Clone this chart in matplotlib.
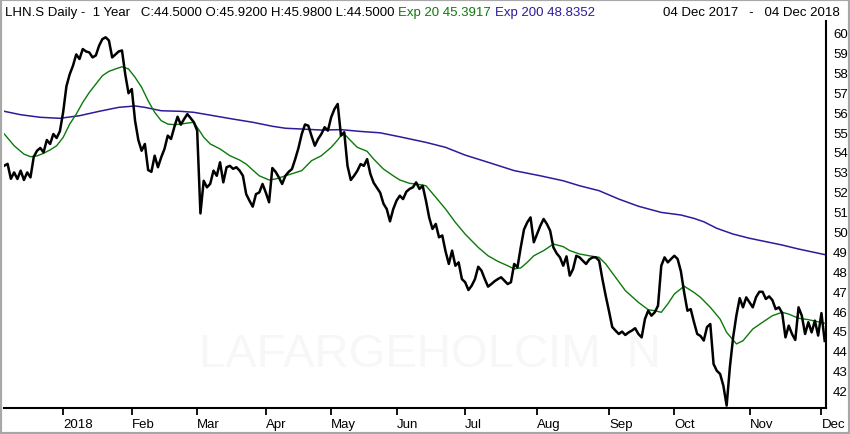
import matplotlib
matplotlib.use('Agg')
import matplotlib.pyplot as plt
from matplotlib.patches import Rectangle
import pandas as pd

# Swiss trading days, 04 Dec 2017 - 04 Dec 2018
holidays = ['2017-12-25', '2017-12-26', '2018-01-01', '2018-01-02', '2018-03-30',
            '2018-04-02', '2018-05-01', '2018-05-10', '2018-05-21', '2018-08-01']
dates = pd.bdate_range('2017-12-04', '2018-12-04')
dates = dates[~dates.isin(pd.to_datetime(holidays))]

# daily closes
closes = [
    53.31, 53.40, 52.65, 52.97, 52.64, 53.06, 52.59, 52.97, 52.72, 53.75,
    54.06, 54.20, 53.98, 54.60, 54.40, 54.90, 54.70, 55.04, 56.00, 57.30,
    57.90, 58.33, 58.90, 58.67, 59.17, 59.05, 59.00, 58.75, 58.85, 59.34,
    59.67, 59.76, 59.60, 58.75, 58.90, 59.05, 59.10, 57.90, 56.95, 57.16,
    55.57, 54.60, 54.06, 54.40, 53.09, 53.00, 53.81, 53.23, 53.73, 54.15,
    54.82, 54.65, 55.24, 55.77, 55.37, 55.65, 55.90, 55.70, 55.49, 55.07,
    50.91, 52.55, 52.22, 52.40, 53.06, 52.80, 53.48, 52.47, 53.23, 53.30,
    53.15, 53.23, 53.06, 52.80, 51.88, 51.55, 51.25, 51.88, 51.96, 52.39,
    51.96, 51.47, 53.19, 53.00, 52.72, 52.39, 52.80, 53.00, 53.14, 53.64,
    54.20, 54.90, 55.38, 55.32, 54.80, 54.31, 54.65, 54.90, 55.24, 55.07,
    55.74, 56.15, 56.41, 54.82, 54.99, 53.30, 52.59, 52.80, 53.05, 53.39,
    53.30, 53.64, 52.89, 52.45, 52.20, 51.95, 51.40, 51.13, 50.51, 51.13,
    51.55, 51.80, 51.63, 52.00, 52.14, 52.22, 52.47, 52.14, 52.30, 51.55,
    50.70, 50.13, 50.38, 49.71, 49.80, 49.00, 48.37, 49.04, 48.28, 48.45,
    47.61, 47.45, 47.06, 47.28, 47.61, 48.23, 48.03, 47.61, 47.23, 47.36,
    47.50, 47.61, 47.70, 47.53, 47.36, 47.45, 48.37, 48.20, 49.20, 50.10,
    50.46, 50.71, 49.46, 49.87, 50.29, 50.63, 50.38, 50.04, 49.20, 48.90,
    48.70, 48.28, 48.75, 47.78, 48.11, 48.78, 48.70, 48.53, 48.37, 48.60,
    48.70, 48.70, 48.53, 47.60, 46.77, 46.00, 45.20, 45.02, 44.85, 44.97,
    44.80, 44.93, 45.02, 45.14, 44.85, 44.68, 45.60, 46.02, 45.77, 45.94,
    46.27, 48.28, 48.70, 48.45, 48.62, 48.78, 48.62, 48.00, 46.94, 46.02,
    46.10, 45.45, 44.85, 44.75, 44.52, 45.20, 45.35, 43.34, 43.00, 42.84,
    42.25, 41.25, 43.20, 44.70, 45.80, 46.65, 46.19, 46.69, 46.44, 46.19,
    46.70, 46.97, 46.97, 46.61, 46.74, 46.55, 46.10, 46.19, 45.90, 44.68,
    45.27, 44.85, 44.55, 46.19, 45.77, 44.85, 45.44, 44.93, 45.52, 44.77,
    45.90, 44.50,
]

# exponential averages, sampled along the drawn curves (trading-day index, value)
ema20_idx = [0, 3, 6, 8, 10, 12, 14, 16, 18, 20, 22, 24, 26, 28, 30, 32, 34, 36, 38, 40,
             42, 44, 46, 48, 50, 52, 54, 56, 58, 59, 61, 63, 66, 69, 72, 74, 76, 78, 81, 83,
             86, 91, 94, 97, 100, 102, 103, 104, 106, 108, 111, 113, 116, 119, 121, 124, 126, 129, 132, 135,
             138, 141, 145, 148, 151, 154, 156, 158, 160, 162, 165, 168, 171, 173, 176, 179, 182, 184, 187, 190,
             194, 197, 199, 201, 203, 205, 208, 211, 213, 216, 219, 221, 224, 226, 229, 232, 235, 238, 240, 243,
             246, 251]
ema20 = [54.90, 54.31, 53.89, 53.76, 53.80, 53.93, 54.10, 54.31, 54.73, 55.40,
         55.90, 56.49, 56.99, 57.41, 57.83, 58.05, 58.17, 58.28, 58.17, 57.75,
         57.25, 56.57, 55.99, 55.57, 55.40, 55.37, 55.40, 55.45, 55.49, 55.24,
         54.74, 54.40, 54.15, 53.81, 53.59, 53.39, 53.09, 52.80, 52.59, 52.64,
         52.80, 53.06, 53.56, 53.81, 54.23, 54.60, 54.82, 54.90, 54.56, 54.23,
         54.03, 53.64, 53.14, 52.80, 52.59, 52.42, 52.39, 52.30, 51.72, 51.13,
         50.46, 49.87, 49.20, 48.78, 48.50, 48.28, 48.12, 48.17, 48.45, 48.78,
         49.04, 49.37, 49.24, 49.04, 48.87, 48.78, 48.70, 48.37, 47.70, 47.03,
         46.44, 46.07, 46.02, 45.94, 46.36, 46.86, 47.25, 46.94, 46.69, 46.19,
         45.60, 44.93, 44.35, 44.51, 45.10, 45.44, 45.77, 45.94, 45.85, 45.64,
         45.57, 45.39]

ema200_idx = [0, 5, 11, 17, 23, 29, 35, 40, 43, 48, 54, 58, 64, 70, 76, 82, 86, 91, 97, 103,
              109, 115, 121, 129, 135, 141, 148, 156, 164, 171, 176, 182, 188, 194, 201, 207, 211, 214, 218, 223,
              228, 233, 238, 243, 251]
ema200 = [56.04, 55.87, 55.74, 55.69, 55.82, 56.04, 56.24, 56.31, 56.24, 56.07,
          56.04, 55.99, 55.82, 55.65, 55.49, 55.29, 55.19, 55.15, 55.10, 55.12,
          55.03, 54.96, 54.76, 54.48, 54.23, 53.84, 53.48, 53.06, 52.80, 52.55,
          52.30, 52.05, 51.63, 51.27, 50.96, 50.83, 50.66, 50.49, 50.16, 49.87,
          49.66, 49.49, 49.32, 49.12, 48.84]

y_ticks = list(range(42, 61))

# first trading day of each month -> x tick
x = list(range(len(closes)))
month_pos, month_lab = [], []
for i, d in enumerate(dates):
    if i > 0 and d.month != dates[i - 1].month:
        month_pos.append(i)
        month_lab.append('2018' if d.month == 1 else d.strftime('%b'))

fig = plt.figure(figsize=(8.5, 4.35), dpi=100)
ax = fig.add_axes([4 / 850, 26 / 435, 822 / 850, 387 / 435])

ax.plot(ema200_idx, ema200, color='#2e1a9a', lw=1.1, zorder=2)
ax.plot(ema20_idx, ema20, color='#0b7a0b', lw=1.0, zorder=3)
ax.plot(x, closes, color='black', lw=1.8, zorder=4)

# faint watermark
ax.text(0.518, 0.14, 'LAFARGEHOLCIM  N', transform=ax.transAxes, ha='center', va='center',
        fontsize=34, color='#f7f7f7', zorder=0, family='Liberation Sans')

ax.set_xlim(-0.1, 251.4)
ax.set_ylim(41.13, 60.58)
for s in ['left', 'top']:
    ax.spines[s].set_visible(False)
for s in ['right', 'bottom']:
    ax.spines[s].set_linewidth(1.5)

ax.yaxis.tick_right()
ax.set_yticks(y_ticks)
ax.set_yticklabels([str(v) for v in y_ticks], fontsize=9.5, family='Liberation Sans')
ax.tick_params(axis='y', length=0, pad=5)

ax.set_xticks(month_pos)
ax.set_xticklabels(month_lab, fontsize=9.5, family='Liberation Sans', ha='left')
ax.tick_params(axis='x', direction='out', length=5, width=1.3, pad=2)

# header line, pieces chained one after another
hy = 1 - 13 / 435
t1 = fig.text(5 / 850, hy, 'LHN.S Daily -  1 Year   C:44.5000 O:45.9200 H:45.9800 L:44.5000',
              fontsize=9.5, va='center', family='Liberation Sans')
t2 = fig.text(0, 0, 'Exp 20 45.3917', color='#0b7a0b', fontsize=9.5, va='center',
              family='Liberation Sans')
t3 = fig.text(0, 0, 'Exp 200 48.8352', color='#2e1a9a', fontsize=9.5, va='center',
              family='Liberation Sans')
fig.canvas.draw()
r = fig.canvas.get_renderer()
bb1 = t1.get_window_extent(r).transformed(fig.transFigure.inverted())
t2.set_position((bb1.x1 + 4 / 850, hy))
bb2 = t2.get_window_extent(r).transformed(fig.transFigure.inverted())
t3.set_position((bb2.x1 + 4 / 850, hy))
fig.text(840 / 850, hy, '04 Dec 2017   -   04 Dec 2018', fontsize=9.5, va='center', ha='right',
         family='Liberation Sans')

fig.patches.append(Rectangle((0, 0), 1, 1, transform=fig.transFigure, fill=False,
                             edgecolor='#a8a8a8', lw=3))

fig.savefig('out.png', dpi=100)
